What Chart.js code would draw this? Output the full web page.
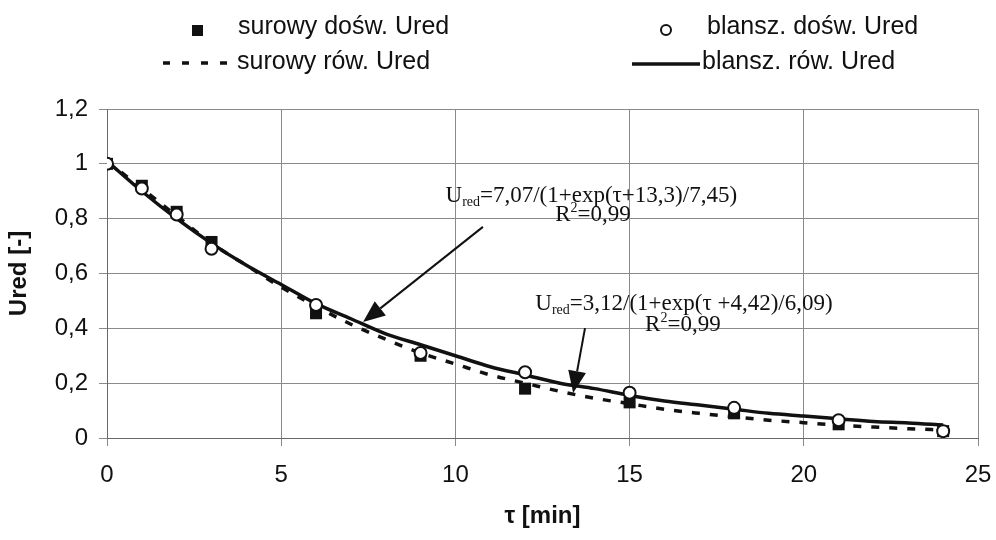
<!DOCTYPE html>
<html>
<head>
<meta charset="utf-8">
<script src="https://cdn.jsdelivr.net/npm/chart.js@4.4.1/dist/chart.umd.min.js"></script>
<style>
  html, body { margin: 0; padding: 0; background: #fff; }
  #wrap { width: 996px; height: 540px; }
</style>
</head>
<body>
<div id="wrap"><canvas id="uredChart" width="996" height="540"></canvas></div>
<script>
// measured points (tau in min)
const tauPoints = [0, 1, 2, 3, 6, 9, 12, 15, 18, 21, 24];
const surowyDosw = [1.00, 0.92, 0.825, 0.715, 0.455, 0.30, 0.18, 0.13, 0.09, 0.05, 0.025];
const blanszDosw = [1.00, 0.91, 0.815, 0.69, 0.485, 0.31, 0.24, 0.165, 0.11, 0.065, 0.025];

// fitted curves, every 1 min
const tauFit = [0, 1, 2, 3, 4, 5, 6, 7, 8, 9, 10, 11, 12, 13, 14, 15, 16, 17, 18, 19, 20, 21, 22, 23, 24];
const surowyRow = [1.01, 0.91, 0.81, 0.71, 0.63, 0.55, 0.48, 0.415, 0.36, 0.31, 0.27, 0.23, 0.20, 0.17, 0.145, 0.125, 0.105, 0.09, 0.077, 0.065, 0.056, 0.047, 0.04, 0.034, 0.029];
const blanszRow = [1.01, 0.90, 0.80, 0.71, 0.63, 0.56, 0.49, 0.435, 0.38, 0.34, 0.30, 0.26, 0.23, 0.20, 0.18, 0.155, 0.135, 0.12, 0.105, 0.09, 0.08, 0.07, 0.06, 0.055, 0.047];

const xTicks = [0, 5, 10, 15, 20, 25];
const yTicks = [0, 0.2, 0.4, 0.6, 0.8, 1, 1.2];

const SANS = "'Liberation Sans', Arial, sans-serif";
const SERIF = "'Liberation Serif', 'Times New Roman', serif";

function toXY(xs, ys) {
    return xs.map((x, i) => ({ x: x, y: ys[i] }));
}

// equations with arrows, placed in data units
const notes = [
    {
        line1: [['U', 23, 0], ['red', 14, 4], ['=7,07/(1+exp(\u03c4+13,3)/7,45)', 23, 0]],
        at1: [13.9, 0.861],
        line2: [['R', 23, 0], ['2', 14, -9], ['=0,99', 23, 0]],
        at2: [13.95, 0.79],
        arrowFrom: [10.79, 0.77],
        arrowTo: [7.35, 0.423]
    },
    {
        line1: [['U', 23, 0], ['red', 14, 4], ['=3,12/(1+exp(\u03c4 +4,42)/6,09)', 23, 0]],
        at1: [16.56, 0.467],
        line2: [['R', 23, 0], ['2', 14, -9], ['=0,99', 23, 0]],
        at2: [16.53, 0.39],
        arrowFrom: [13.72, 0.401],
        arrowTo: [13.38, 0.164]
    }
];

function drawRich(ctx, parts, cx, baseline) {
    let total = 0;
    parts.forEach(p => {
        ctx.font = p[1] + 'px ' + SERIF;
        total += ctx.measureText(p[0]).width;
    });
    let x = cx - total / 2;
    ctx.textAlign = 'left';
    ctx.textBaseline = 'alphabetic';
    parts.forEach(p => {
        ctx.font = p[1] + 'px ' + SERIF;
        ctx.fillText(p[0], x, baseline + p[2]);
        x += ctx.measureText(p[0]).width;
    });
}

function drawArrow(ctx, x1, y1, x2, y2) {
    const ang = Math.atan2(y2 - y1, x2 - x1);
    const headLen = 22, headW = 9;
    const bx = x2 - headLen * Math.cos(ang), by = y2 - headLen * Math.sin(ang);
    ctx.beginPath();
    ctx.moveTo(x1, y1);
    ctx.lineTo(bx, by);
    ctx.lineWidth = 2;
    ctx.stroke();
    ctx.beginPath();
    ctx.moveTo(x2, y2);
    ctx.lineTo(bx + headW * Math.sin(ang), by - headW * Math.cos(ang));
    ctx.lineTo(bx - headW * Math.sin(ang), by + headW * Math.cos(ang));
    ctx.closePath();
    ctx.fill();
}

const notesPlugin = {
    id: 'notes',
    afterDatasetsDraw(chart) {
        const ctx = chart.ctx, xs = chart.scales.x, ys = chart.scales.y;
        ctx.save();
        ctx.fillStyle = '#111';
        ctx.strokeStyle = '#111';
        notes.forEach(n => {
            drawRich(ctx, n.line1, xs.getPixelForValue(n.at1[0]), ys.getPixelForValue(n.at1[1]));
            drawRich(ctx, n.line2, xs.getPixelForValue(n.at2[0]), ys.getPixelForValue(n.at2[1]));
            drawArrow(ctx,
                xs.getPixelForValue(n.arrowFrom[0]), ys.getPixelForValue(n.arrowFrom[1]),
                xs.getPixelForValue(n.arrowTo[0]), ys.getPixelForValue(n.arrowTo[1]));
        });
        ctx.restore();
    }
};

// legend in two rows like the original
const legendPlugin = {
    id: 'twoRowLegend',
    afterDraw(chart) {
        const ctx = chart.ctx;
        ctx.save();
        ctx.fillStyle = '#111';
        ctx.strokeStyle = '#111';
        ctx.font = '25px ' + SANS;
        ctx.textAlign = 'left';
        ctx.textBaseline = 'alphabetic';

        ctx.fillRect(192, 25, 11, 11);
        ctx.fillText('surowy dośw. Ured', 238, 34);

        ctx.beginPath();
        ctx.arc(666, 30, 5, 0, Math.PI * 2);
        ctx.fillStyle = '#fff';
        ctx.fill();
        ctx.lineWidth = 2;
        ctx.stroke();
        ctx.fillStyle = '#111';
        ctx.fillText('blansz. dośw. Ured', 707, 34);

        ctx.beginPath();
        ctx.setLineDash([7, 12]);
        ctx.lineWidth = 3.5;
        ctx.moveTo(163, 63);
        ctx.lineTo(232, 63);
        ctx.stroke();
        ctx.setLineDash([]);
        ctx.fillText('surowy rów. Ured', 237, 69);

        ctx.beginPath();
        ctx.moveTo(632, 64);
        ctx.lineTo(700, 64);
        ctx.stroke();
        ctx.fillText('blansz. rów. Ured', 702, 69);
        ctx.restore();
    }
};

const ctxUred = document.getElementById('uredChart').getContext('2d');
new Chart(ctxUred, {
    type: 'scatter',
    data: {
        datasets: [
            {
                label: 'blansz. dośw. Ured',
                data: toXY(tauPoints, blanszDosw),
                pointStyle: 'circle',
                pointRadius: 6,
                pointBorderWidth: 2,
                pointBackgroundColor: '#fff',
                pointBorderColor: '#111',
                order: 1
            },
            {
                label: 'surowy dośw. Ured',
                data: toXY(tauPoints, surowyDosw),
                pointStyle: 'rect',
                pointRadius: 8.5,
                pointBorderWidth: 0,
                pointBackgroundColor: '#111',
                pointBorderColor: '#111',
                order: 2
            },
            {
                type: 'line',
                label: 'blansz. rów. Ured',
                data: toXY(tauFit, blanszRow),
                borderColor: '#111',
                borderWidth: 3.5,
                pointRadius: 0,
                cubicInterpolationMode: 'monotone',
                fill: false,
                order: 3
            },
            {
                type: 'line',
                label: 'surowy rów. Ured',
                data: toXY(tauFit, surowyRow),
                borderColor: '#111',
                borderWidth: 3.5,
                borderDash: [8, 10],
                pointRadius: 0,
                cubicInterpolationMode: 'monotone',
                fill: false,
                order: 4
            }
        ]
    },
    options: {
        responsive: false,
        animation: false,
        layout: { padding: { left: 0, right: 18, top: 109, bottom: 0 } },
        plugins: {
            legend: { display: false },
            tooltip: { enabled: false }
        },
        scales: {
            x: {
                type: 'linear',
                min: 0,
                max: 25,
                afterFit: s => { s.height = 102; s.paddingLeft = 0; s.paddingRight = 0; },
                afterBuildTicks: s => { s.ticks = xTicks.map(v => ({ value: v })); },
                grid: { color: '#8a8a8a', lineWidth: 1, tickLength: 8 },
                border: { color: '#6a6a6a', width: 1 },
                ticks: {
                    color: '#111',
                    padding: 15,
                    maxRotation: 0,
                    font: { family: SANS, size: 24 }
                },
                title: {
                    display: true,
                    text: '\u03c4 [min]',
                    color: '#111',
                    padding: { top: 4, bottom: 9 },
                    font: { family: SANS, size: 24, weight: 'bold' }
                }
            },
            y: {
                min: 0,
                max: 1.2,
                afterFit: s => { s.width = 107; s.paddingTop = 0; s.paddingBottom = 0; },
                afterBuildTicks: s => { s.ticks = yTicks.map(v => ({ value: v })); },
                grid: { color: '#8a8a8a', lineWidth: 1, tickLength: 8 },
                border: { color: '#6a6a6a', width: 1 },
                ticks: {
                    color: '#111',
                    padding: 11,
                    font: { family: SANS, size: 24 },
                    callback: v => String(Number(v.toFixed(1))).replace('.', ',')
                },
                title: {
                    display: true,
                    text: 'Ured [-]',
                    color: '#111',
                    padding: { top: 5, bottom: 4 },
                    font: { family: SANS, size: 24, weight: 'bold' }
                }
            }
        }
    },
    plugins: [notesPlugin, legendPlugin]
});
</script>
</body>
</html>
